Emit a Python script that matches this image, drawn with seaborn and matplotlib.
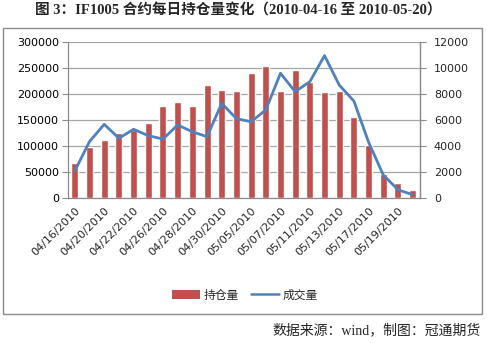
import numpy as np
import pandas as pd
import matplotlib
matplotlib.use("Agg")
import matplotlib.pyplot as plt
from matplotlib.patches import Rectangle, Patch
from matplotlib.lines import Line2D
import seaborn as sns

sns.set_style("white")
plt.rcParams['font.family'] = ['DejaVu Sans', 'Noto Sans CJK SC']

# Trading days of contract IF1005
dates = ["04/16/2010", "04/19/2010", "04/20/2010", "04/21/2010", "04/22/2010",
         "04/23/2010", "04/26/2010", "04/27/2010", "04/28/2010", "04/29/2010",
         "04/30/2010", "05/04/2010", "05/05/2010", "05/06/2010", "05/07/2010",
         "05/10/2010", "05/11/2010", "05/12/2010", "05/13/2010", "05/14/2010",
         "05/17/2010", "05/18/2010", "05/19/2010", "05/20/2010"]
# Open interest (left axis)
open_interest = [67000, 99000, 111000, 126000, 131000, 145000, 177000, 185000,
                 177000, 217000, 207500, 206000, 239500, 253500, 206000, 246000,
                 223500, 203000, 206000, 156000, 101500, 46000, 29000, 15500]
# Trading volume (right axis)
volume = [2100, 4350, 5670, 4600, 5290, 4800, 4540, 5620, 5100, 4720, 7280, 6100,
          5870, 6770, 9580, 8170, 8940, 10930, 8680, 7450, 4300, 1790, 650, 280]

left_ticks = [0, 50000, 100000, 150000, 200000, 250000, 300000]
right_ticks = [0, 2000, 4000, 6000, 8000, 10000, 12000]

bar_color = "#C0504D"
line_color = "#4F81BD"
grid_color = "#A6A6A6"

df = pd.DataFrame({"date": dates, "pos": np.arange(len(dates)),
                   "oi": open_interest, "vol": volume})

W, H = 487, 343
fig = plt.figure(figsize=(W / 100, H / 100), dpi=100)
fig.patch.set_facecolor("white")

# outer chart frame
fig.patches.append(Rectangle((3 / W, 1 - 314 / H), 479 / W, 286 / H,
                             transform=fig.transFigure, fill=False,
                             edgecolor="#8C8C8C", linewidth=1.0))

ax = fig.add_axes([67.5 / W, 1 - 198.3 / H, 352.5 / W, 156.6 / H])
sns.barplot(data=df, x="pos", y="oi", color=bar_color, saturation=1,
            width=0.48, ax=ax, order=list(range(len(dates))))
ax.set_xlim(-0.5, len(dates) - 0.5)
ax.set_ylim(0, 300000)
ax.set_yticks(left_ticks)
ax.set_yticklabels([str(v) for v in left_ticks], fontsize=8, color="#000000")
ax.yaxis.grid(True, color=grid_color, linewidth=0.9)
ax.set_axisbelow(True)
ax.set_xlabel("")
ax.set_ylabel("")

ax.set_xticks(np.arange(0, len(dates), 2))
ax.set_xticklabels(dates[::2], rotation=45, ha="right", rotation_mode="anchor",
                   fontsize=8)
ax.set_xticks(np.arange(-0.5, len(dates), 1), minor=True)
ax.tick_params(axis="x", which="major", length=0, pad=5)
ax.tick_params(axis="x", which="minor", length=3, color="#8C8C8C", width=0.8,
               direction="out")
ax.tick_params(axis="y", length=4, color="#8C8C8C", width=0.8, direction="out",
               pad=2)
for side in ["left", "bottom", "right"]:
    ax.spines[side].set_color("#8C8C8C")
    ax.spines[side].set_linewidth(0.9)
ax.spines["top"].set_visible(False)

ax2 = ax.twinx()
sns.lineplot(data=df, x="pos", y="vol", color=line_color, linewidth=2.0,
             ax=ax2, legend=False)
ax2.set_ylim(0, 12000)
ax2.set_yticks(right_ticks)
ax2.set_yticklabels([str(v) for v in right_ticks], fontsize=8)
ax2.tick_params(axis="y", length=4, color="#8C8C8C", width=0.8, direction="out",
                pad=6)
ax2.set_xlim(-0.5, len(dates) - 0.5)
ax2.set_xlabel("")
ax2.set_ylabel("")
ax2.grid(False)
for side in ["top", "left", "bottom"]:
    ax2.spines[side].set_visible(False)
ax2.spines["right"].set_color("#8C8C8C")
ax2.spines["right"].set_linewidth(0.9)

handles = [Patch(facecolor=bar_color, edgecolor="none"),
           Line2D([0], [0], color=line_color, linewidth=1.8)]
fig.legend(handles, ["持仓量", "成交量"], loc="center",
           bbox_to_anchor=(245 / W, 1 - 295 / H), ncol=2, frameon=False,
           fontsize=8.5, handlelength=2.4, handleheight=0.7, columnspacing=1.0,
           handletextpad=0.3)

fig.text(0.49, 1 - 11 / H, "图 3：IF1005 合约每日持仓量变化（2010-04-16 至 2010-05-20）",
         ha="center", va="center", fontsize=10.5, fontweight="bold",
         family=["Liberation Serif", "Noto Sans CJK SC"])
fig.text(481 / W, 1 - 330 / H, "数据来源：wind，制图：冠通期货",
         ha="right", va="center", fontsize=10,
         family=["Liberation Serif", "Noto Sans CJK SC"])

fig.savefig("out.png", dpi=100, facecolor="white")
